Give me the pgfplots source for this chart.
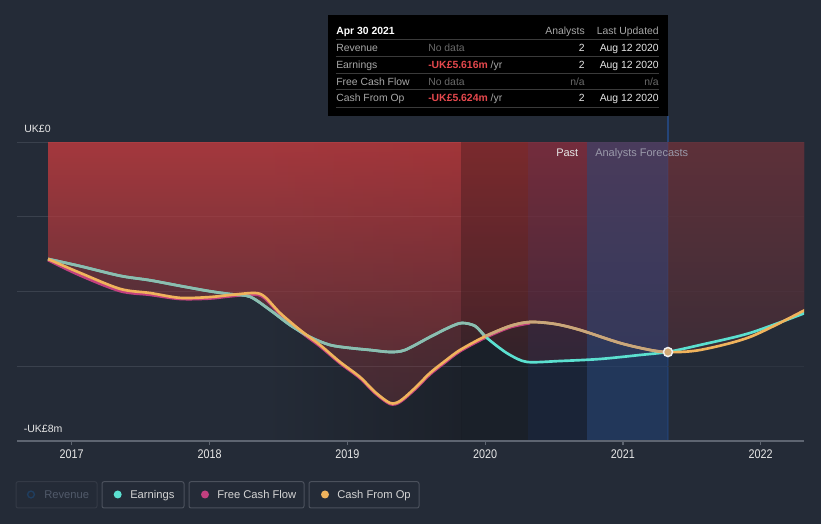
\documentclass[border=0pt]{standalone}
\usepackage{fontspec}
\setmainfont{Liberation Sans}
\newfontfamily\narrowfont[FakeStretch=0.86]{Liberation Sans}
\usepackage{pgfplots}
\usepackage{pgfplotstable}
\pgfplotsset{compat=1.18}

\definecolor{bgc}{HTML}{242B37}
\definecolor{gridc}{HTML}{3A414D}
\definecolor{axc}{HTML}{5E6571}
\definecolor{pastdark}{HTML}{1C212A}
\definecolor{earn}{HTML}{5BE0D0}
\definecolor{earnmute}{HTML}{8DBDAF}
\definecolor{cfo}{HTML}{F0B35C}
\definecolor{cfomute}{HTML}{C9A77C}
\definecolor{fcf}{HTML}{C2407F}
\definecolor{redtop}{RGB}{220,62,64}
\definecolor{redbot}{RGB}{110,50,57}
\definecolor{bandblue}{HTML}{223D6A}
\definecolor{bandnavy}{HTML}{05143A}
\definecolor{hov}{HTML}{24457A}
\definecolor{txt}{HTML}{E6E6E6}
\definecolor{ttlab}{HTML}{A8A8A8}
\definecolor{ttdim}{HTML}{6A6A6A}
\definecolor{ttred}{HTML}{E5484D}
\definecolor{ttsep}{HTML}{3A3A3A}
\definecolor{forec}{HTML}{9A9AAA}
\definecolor{legb}{HTML}{4B515C}
\definecolor{legdim}{HTML}{343A46}
\definecolor{legtxt}{HTML}{D4D4D4}
\definecolor{revtxt}{HTML}{515A6A}
\definecolor{revc}{HTML}{1F3E60}

% earnings, UK£ millions
\pgfplotstableread{
x y
2016.828 -3.130
2017.060 -3.320
2017.351 -3.580
2017.569 -3.700
2017.786 -3.850
2017.997 -3.990
2018.149 -4.070
2018.294 -4.140
2018.439 -4.495
2018.584 -4.896
2018.729 -5.217
2018.874 -5.431
2019.020 -5.512
2019.165 -5.565
2019.310 -5.619
2019.419 -5.565
2019.600 -5.217
2019.745 -4.950
2019.832 -4.843
2019.927 -4.923
2020.000 -5.200
2020.090 -5.470
2020.181 -5.699
2020.305 -5.886
2020.544 -5.860
2020.834 -5.806
2021.124 -5.699
2021.327 -5.616
2021.560 -5.431
2021.922 -5.110
2022.321 -4.575
}\earnings

% cash from operations
\pgfplotstableread{
x y
2016.828 -3.130
2017.060 -3.500
2017.351 -3.930
2017.569 -4.040
2017.786 -4.170
2017.997 -4.150
2018.149 -4.094
2018.331 -4.040
2018.403 -4.147
2018.512 -4.575
2018.657 -5.030
2018.802 -5.431
2018.947 -5.886
2019.092 -6.288
2019.201 -6.689
2019.310 -6.983
2019.382 -6.930
2019.491 -6.582
2019.600 -6.180
2019.709 -5.860
2019.818 -5.565
2020.000 -5.200
2020.181 -4.923
2020.326 -4.816
2020.508 -4.870
2020.689 -5.030
2020.979 -5.378
2021.197 -5.565
2021.327 -5.624
2021.560 -5.565
2021.922 -5.217
2022.321 -4.495
}\cashop

% free cash flow
\pgfplotstableread{
x y
2016.828 -3.160
2017.060 -3.570
2017.351 -3.990
2017.569 -4.090
2017.786 -4.200
2017.997 -4.190
2018.149 -4.130
2018.331 -4.080
2018.403 -4.190
2018.512 -4.610
2018.657 -5.070
2018.802 -5.470
2018.947 -5.920
2019.092 -6.320
2019.201 -6.720
2019.310 -7.010
2019.382 -6.960
2019.491 -6.620
2019.600 -6.220
2019.709 -5.900
2019.818 -5.600
2020.000 -5.240
2020.181 -4.960
2020.326 -4.850
}\fcflow

\newcommand\tf{\fontsize{7.8}{9}\selectfont}
\newcommand\lf{\fontsize{8.4}{10}\selectfont}

\begin{document}
\begin{tikzpicture}
\begin{scope}[x=0.75pt,y=0.75pt]
  \fill[bgc] (0,0) rectangle (821,524);
  \draw[hov, line width=0.9pt] (668,408) -- (668,83);
\end{scope}

\begin{axis}[
  at={(12.75pt,62.25pt)}, anchor=south west,
  scale only axis, width=590.25pt, height=224.25pt,
  xmin=2016.603, xmax=2022.314, ymin=-8, ymax=0,
  axis x line*=bottom, axis y line*=left,
  y axis line style={draw=none},
  x axis line style={draw=axc, line width=0.9pt},
  xtick={2017,2018,2019,2020,2021,2022},
  xticklabels={2017,2018,2019,2020,2021,2022},
  xticklabel style={font=\narrowfont\fontsize{9.4}{10}\selectfont, text=txt},
  x tick style={draw=axc, line width=0.9pt},
  major tick length=3pt, tick align=outside,
  ytick={-8,-6,-4,-2,0}, yticklabels={}, y tick style={draw=none},
  ymajorgrids, grid style={draw=gridc, line width=0.75pt},
]
  % darker hover glow in the past, grid redrawn over it
  \fill[left color=bgc, right color=pastdark] (axis cs:2018.4,-7.97) rectangle (axis cs:2019.826,0);
  \draw[gridc, line width=0.75pt] (axis cs:2018.39,-6) -- (axis cs:2019.83,-6);
  \draw[gridc, line width=0.75pt] (axis cs:2018.39,-4) -- (axis cs:2019.83,-4);
  \draw[gridc, line width=0.75pt] (axis cs:2018.39,-2) -- (axis cs:2019.83,-2);
  \draw[gridc, line width=0.75pt] (axis cs:2018.39,0) -- (axis cs:2019.83,0);

  % red areas
  \addplot[draw=none, smooth, top color=redtop, bottom color=redbot, fill opacity=0.45]
    table[x=x,y=y]{\cashop} \closedcycle;
  \addplot[draw=none, smooth, top color=redtop, bottom color=redbot, fill opacity=0.45]
    table[x=x,y=y]{\earnings} \closedcycle;

  % bands
  \fill[black, fill opacity=0.25] (axis cs:2019.825,-7.97) rectangle (axis cs:2020.311,0);
  \fill[bandnavy, fill opacity=0.3] (axis cs:2020.311,-7.97) rectangle (axis cs:2020.739,0);
  \fill[bandblue, fill opacity=0.69] (axis cs:2020.739,-7.97) rectangle (axis cs:2021.327,0);
  \fill[bgc, fill opacity=0.55] (axis cs:2021.327,-7.97) rectangle (axis cs:2022.4,0);

  % lines
  \addplot[fcf, line width=2pt, smooth] table[x=x,y=y]{\fcflow};
  \addplot[earn, line width=2pt, smooth] table[x=x,y=y]{\earnings};
  \addplot[earnmute, line width=2pt, smooth, restrict x to domain=2016:2020.001]
    table[x=x,y=y]{\earnings};
  \addplot[cfo, line width=2pt, smooth] table[x=x,y=y]{\cashop};
  \addplot[cfomute, line width=2pt, smooth, restrict x to domain=2019.999:2021.33]
    table[x=x,y=y]{\cashop};

  \addplot[only marks, mark=*, mark size=3.4pt,
    mark options={fill=cfomute!80!cfo, draw=white!88!gray, line width=1.1pt}]
    coordinates {(2021.327,-5.62)};
\end{axis}

\begin{scope}[x=0.75pt,y=0.75pt]
  % axis value labels
  \node[anchor=base west, inner sep=0, text=txt, font=\fontsize{7.9}{9}\selectfont] at (24,391.2) {UK£0};
  \node[anchor=base west, inner sep=0, text=txt, font=\fontsize{7.9}{9}\selectfont] at (23.5,91.2) {-UK£8m};
  \node[anchor=base west, inner sep=0, text=txt, font=\fontsize{8.25}{9}\selectfont] at (556,367.1) {Past};
  \node[anchor=base west, inner sep=0, text=forec, font=\fontsize{8.25}{9}\selectfont] at (595,367.1) {Analysts Forecasts};

  % tooltip
  \fill[black] (328,509) rectangle (668,408);
  \foreach \yy in {484,467.3,450.7,434,416.3}
    \draw[ttsep, line width=0.75pt] (336,\yy) -- (659,\yy);
  \node[anchor=base west, inner sep=0, text=white, font=\tf\bfseries] at (336,489.6) {Apr 30 2021};
  \node[anchor=base east, inner sep=0, text=ttlab, font=\tf] at (585,489.6) {Analysts};
  \node[anchor=base east, inner sep=0, text=ttlab, font=\tf] at (659,489.6) {Last Updated};

  \node[anchor=base west, inner sep=0, text=ttlab, font=\tf] at (336,472) {Revenue};
  \node[anchor=base west, inner sep=0, text=ttdim, font=\tf] at (428,472) {No data};
  \node[anchor=base east, inner sep=0, text=txt, font=\tf] at (585,472) {2};
  \node[anchor=base east, inner sep=0, text=txt, font=\tf] at (659,472) {Aug 12 2020};

  \node[anchor=base west, inner sep=0, text=ttlab, font=\tf] at (336,455.3) {Earnings};
  \node[anchor=base west, inner sep=0, text=ttlab, font=\tf] at (428,455.3) {{\color{ttred}\bfseries -UK£5.616m} /yr};
  \node[anchor=base east, inner sep=0, text=txt, font=\tf] at (585,455.3) {2};
  \node[anchor=base east, inner sep=0, text=txt, font=\tf] at (659,455.3) {Aug 12 2020};

  \node[anchor=base west, inner sep=0, text=ttlab, font=\tf] at (336,438.6) {Free Cash Flow};
  \node[anchor=base west, inner sep=0, text=ttdim, font=\tf] at (428,438.6) {No data};
  \node[anchor=base east, inner sep=0, text=ttdim, font=\tf] at (585,438.6) {n/a};
  \node[anchor=base east, inner sep=0, text=ttdim, font=\tf] at (659,438.6) {n/a};

  \node[anchor=base west, inner sep=0, text=ttlab, font=\tf] at (336,422) {Cash From Op};
  \node[anchor=base west, inner sep=0, text=ttlab, font=\tf] at (428,422) {{\color{ttred}\bfseries -UK£5.624m} /yr};
  \node[anchor=base east, inner sep=0, text=txt, font=\tf] at (585,422) {2};
  \node[anchor=base east, inner sep=0, text=txt, font=\tf] at (659,422) {Aug 12 2020};

  % legend
  \draw[legdim, line width=0.75pt, rounded corners=1.5pt] (16,42.3) rectangle (97,16);
  \draw[legb, line width=0.75pt, rounded corners=1.5pt] (102,42.3) rectangle (184,16);
  \draw[legb, line width=0.75pt, rounded corners=1.5pt] (189,42.3) rectangle (304,16);
  \draw[legb, line width=0.75pt, rounded corners=1.5pt] (309,42.3) rectangle (419,16);
  \draw[revc, line width=1pt] (31,29.5) circle[radius=3.4];
  \fill[earn] (117.7,29.5) circle[radius=4];
  \fill[fcf] (205,29.5) circle[radius=4];
  \fill[cfo] (325,29.5) circle[radius=4];
  \node[anchor=base west, inner sep=0, text=revtxt, font=\lf] at (44,25.5) {Revenue};
  \node[anchor=base west, inner sep=0, text=legtxt, font=\lf] at (130,25.5) {Earnings};
  \node[anchor=base west, inner sep=0, text=legtxt, font=\lf] at (217,25.5) {Free Cash Flow};
  \node[anchor=base west, inner sep=0, text=legtxt, font=\lf] at (337,25.5) {Cash From Op};
\end{scope}
\end{tikzpicture}
\end{document}
